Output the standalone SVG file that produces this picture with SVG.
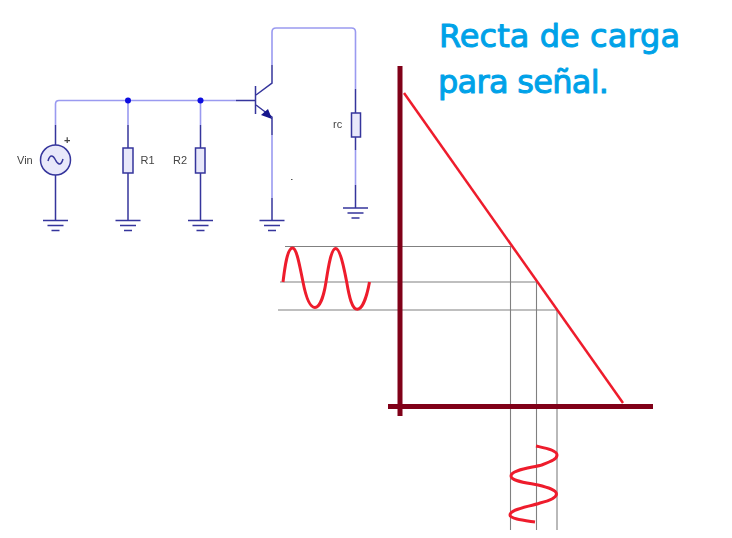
<svg xmlns="http://www.w3.org/2000/svg" width="732" height="538" viewBox="0 0 732 538">
<style>
.lw{fill:none;stroke:#9a9af0;stroke-width:1.6}
.dw{fill:none;stroke:#35359c;stroke-width:1.5}
.part{fill:#e8e8fa;stroke:#35359c;stroke-width:1.5}
.lbl{font-family:"Liberation Sans",Arial,sans-serif;font-size:11px;fill:#444}
.guide{stroke:#808080;stroke-width:1.1;fill:none}
.axis{stroke:#800018;stroke-width:5;fill:none}
.sig{stroke:#ee1c2c;stroke-width:3;fill:none}
.title{font-family:"DejaVu Sans",sans-serif;font-size:32px;fill:#00a2e8;stroke:#00a2e8;stroke-width:1;stroke-linejoin:round}
</style>
<defs>
<filter id="soft" x="-5%" y="-5%" width="110%" height="110%"><feGaussianBlur stdDeviation="0.35"/></filter>
<g id="gnd"><path class="dw" d="M-12.500 0H12.500M-8 5H8M-4 10H4"/></g>
</defs>
<rect width="732" height="538" fill="#fff"/>
<g id="connectors" filter="url(#soft)">
<path class="lw" d="M55.500 125V104Q55.500 100.500 59 100.500H236"/>
<path class="lw" d="M128 100.500V125M200.500 100.500V125"/>
<path class="lw" d="M272 65V32Q272 28 276 28H351.500Q355.500 28 355.500 32V89"/>
<path class="lw" d="M272 135V198"/>
<path class="lw" d="M355.500 150V185"/>
<path class="dw" d="M236 100.500H255M55.500 125V145M55.500 175V220M128 125V148M128 173V220M200.500 125V148M200.500 173V220"/>
<path class="dw" d="M272 65V83L256 95M256 105L272 117V135M272 198V220M355.500 89V113M355.500 137V150M355.500 185V208"/>
</g>
<g id="dots" filter="url(#soft)" fill="#0a0ae0">
<circle cx="128" cy="100.500" r="3"/><circle cx="200.500" cy="100.500" r="3"/>
</g>
<g id="Q1" filter="url(#soft)">
<path class="dw" d="M255.500 86V114"/>
<path d="M272 119L261 115L268 109Z" fill="#14148c"/>
</g>
<g id="Vin" filter="url(#soft)">
<circle class="part" cx="55.500" cy="160" r="15"/>
<path class="dw" d="M48 161C50 154 53 155 55.500 160S61 166 63 159"/>
<text class="lbl" x="17" y="164">Vin</text>
<text class="lbl" x="64" y="144" font-weight="bold">+</text>
</g>
<g id="R1" filter="url(#soft)"><rect class="part" x="123" y="148" width="10" height="25"/><text class="lbl" x="140.500" y="164">R1</text></g>
<g id="R2" filter="url(#soft)"><rect class="part" x="195.500" y="148" width="9.500" height="25"/><text class="lbl" x="173" y="164">R2</text></g>
<g id="rc" filter="url(#soft)"><rect class="part" x="351.500" y="113" width="9" height="24"/><text class="lbl" x="333" y="128">rc</text></g>
<g id="grounds" filter="url(#soft)">
<use href="#gnd" x="55.500" y="220.500"/><use href="#gnd" x="128" y="220.500"/><use href="#gnd" x="200.500" y="220.500"/><use href="#gnd" x="272" y="220.500"/><use href="#gnd" x="355.500" y="208"/>
<rect x="291" y="179" width="1.500" height="1" fill="#555"/>
</g>
<g id="guides">
<path class="guide" d="M285 246.500H511M280 282H537M278 310H557M510.500 246.500V530M536.500 282V530M557 310V530"/>
</g>
<g id="graph">
<path class="axis" d="M400 66V416M388 406.500H653"/>
<path d="M404 93L623 403" stroke="#ee1c2c" stroke-width="2.500" fill="none"/>
<path class="sig" d="M283 282C284.500 270 287 248 292.500 248C297 248 300 268 303 282C305.500 295 309.500 307.500 315 307.500C320 307.500 324 295 326 282C328 269 331 248.500 335.700 248.500C340 248.500 344 268 346.700 282C349 296 352 309.300 357.300 309.300C362.500 309.300 367 296 369.500 282"/>
<path class="sig" d="M536 446C545 448 557 450 557 455C557 459 552 461 541.700 465C530 468 511 470 511 476C511 481 525 482.500 538 485C548 487.500 556.500 490 556.500 494C556.500 498 548 501 540 503C528 507 510 509 510 515C510 519 525 520.500 535 522"/>
</g>
<g id="title">
<text class="title" x="439" y="47" textLength="241">Recta de carga</text>
<text class="title" x="438" y="93" textLength="171">para señal.</text>
</g>
</svg>
